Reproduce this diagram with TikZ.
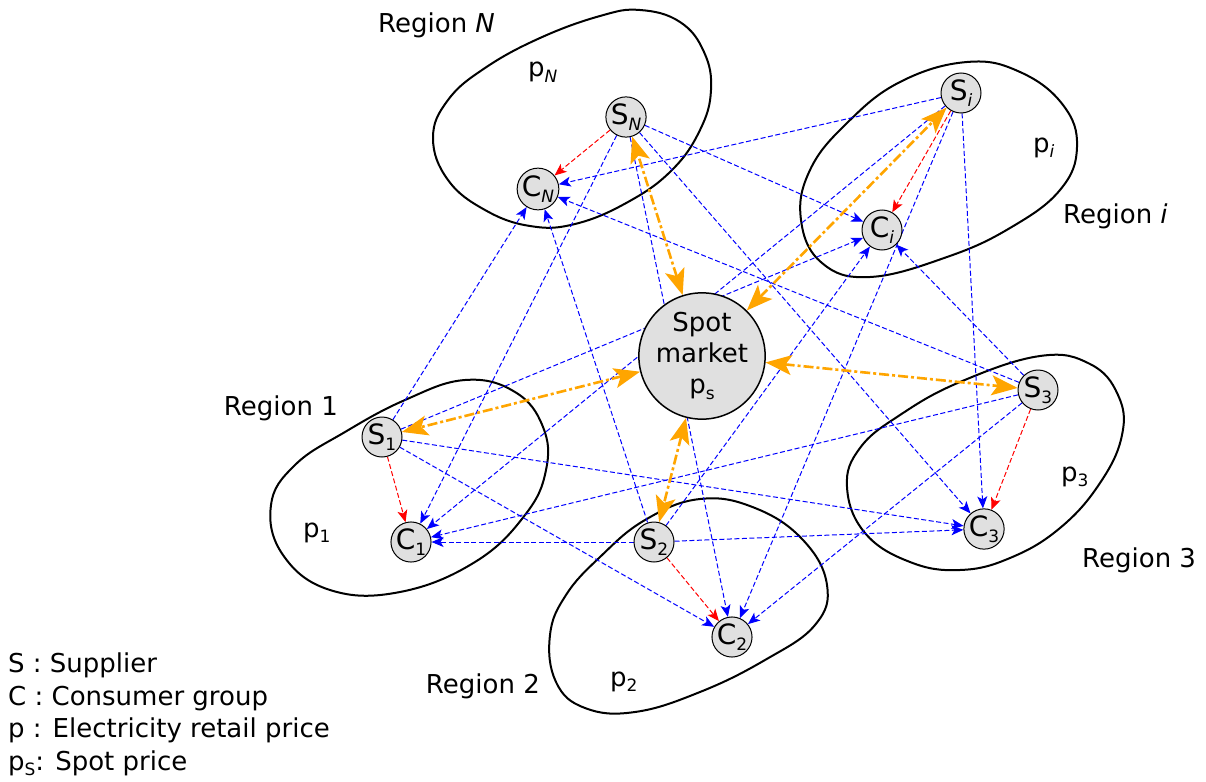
\documentclass[tikz,border=0pt]{standalone}
\usepackage{fontspec}
\setmainfont{DejaVu Sans}
\usetikzlibrary{arrows.meta,backgrounds}
\definecolor{myorange}{RGB}{255,165,0}
\definecolor{myblue}{RGB}{0,0,255}
\definecolor{myred}{RGB}{255,0,0}
\definecolor{nodegray}{RGB}{224,224,224}
\newcommand\sbs[1]{\raisebox{-0.2em}{\fontsize{17}{17}\selectfont #1}}
\begin{document}
\begin{tikzpicture}[x=1pt,y=-1pt,
  agent/.style={circle,draw=black,line width=1pt,fill=nodegray,minimum size=40pt,inner sep=0pt,font=\fontsize{28}{28}\selectfont},
  market/.style={circle,draw=black,line width=1.5pt,fill=nodegray,minimum size=108pt,inner sep=0pt,align=center,font=\fontsize{26}{31}\selectfont},
  blob/.style={draw=black,line width=2pt},
  lbl/.style={font=\fontsize{26}{30}\selectfont,inner sep=0pt},
  trade/.style={draw=myblue,line width=1pt,dash pattern=on 5pt off 2.5pt,-{Stealth[length=12pt,width=10pt,inset=3pt]}},
  local/.style={draw=myred,line width=1pt,dash pattern=on 5pt off 2.5pt,-{Stealth[length=12pt,width=10pt,inset=3pt]}},
  spotlink/.style={draw=myorange,line width=2.6pt,dash pattern=on 10pt off 3pt on 3pt off 3pt,{Stealth[length=26pt,width=20pt,inset=6pt]}-{Stealth[length=26pt,width=20pt,inset=6pt]}},
]
\useasboundingbox (0,0) rectangle (1206,781);

% nodes
\node[agent] (SN) at (626,117) {S\sbs{\itshape N}};
\node[agent] (CN) at (538,189) {C\sbs{\itshape N}};
\node[agent] (Si) at (961,93) {S\sbs{\itshape i}};
\node[agent] (Ci) at (882,230) {C\sbs{\itshape i}};
\node[agent] (S1) at (382,437) {S\sbs{1}};
\node[agent] (C1) at (411,542) {C\sbs{1}};
\node[agent] (S2) at (654,542) {S\sbs{2}};
\node[agent] (C2) at (732,637) {C\sbs{2}};
\node[agent] (S3) at (1038,390) {S\sbs{3}};
\node[agent] (C3) at (984,529) {C\sbs{3}};
\node[market] (spot) at (702,356) {Spot\\market\\p\sbs{s}};

% labels
\node[lbl,anchor=base west] (lN) at (378,33) {Region \textit{N}};
\node[lbl,anchor=base west] (li) at (1063,223) {Region \textit{i}};
\node[lbl,anchor=base east] (l1) at (338,415) {Region 1};
\node[lbl,anchor=base east] (l2) at (540,693) {Region 2};
\node[lbl,anchor=base west] (l3) at (1082,567) {Region 3};

\node[lbl,anchor=base west] (pN) at (528,77) {p\sbs{\itshape N}};
\node[lbl,anchor=base west] (pi) at (1033,152) {p\sbs{\itshape i}};
\node[lbl,anchor=base west] (p1) at (303,537) {p\sbs{1}};
\node[lbl,anchor=base west] (p2) at (610,686) {p\sbs{2}};
\node[lbl,anchor=base west] (p3) at (1061,481) {p\sbs{3}};

% legend
\node[lbl,anchor=base west] (leg1) at (8,672) {S : Supplier};
\node[lbl,anchor=base west] (leg2) at (8,705) {C : Consumer group};
\node[lbl,anchor=base west] (leg3) at (8,737) {p : Electricity retail price};
\node[lbl,anchor=base west] (leg4) at (8,770) {p\sbs{S}: Spot price};

\begin{scope}[on background layer]
% regions
\draw[blob] plot[smooth cycle,tension=0.7] coordinates {(433,138) (448,100) (485,68) (540,38) (600,16) (640,10) (680,22) (704,52) (711,90) (700,130) (672,170) (628,202) (575,224) (530,226) (485,210) (448,180)};
\draw[blob] plot[smooth cycle,tension=0.7] coordinates {(967,62) (1020,72) (1063,105) (1077,147) (1060,190) (1010,228) (947,257) (870,277) (822,263) (801,220) (810,170) (847,123) (900,82)};
\draw[blob] plot[smooth cycle,tension=0.7] coordinates {(465,380) (515,392) (543,427) (546,470) (525,515) (475,562) (400,592) (330,590) (283,555) (271,505) (295,465) (345,432) (405,400)};
\draw[blob] plot[smooth cycle,tension=0.7] coordinates {(700,499) (755,508) (803,540) (827,585) (815,625) (765,660) (700,692) (635,712) (585,708) (556,682) (550,635) (566,595) (600,557) (645,520)};
\draw[blob] plot[smooth cycle,tension=0.7] coordinates {(1040,356) (1090,364) (1118,395) (1122,435) (1100,483) (1060,528) (1010,558) (960,570) (910,562) (865,533) (847,487) (860,448) (900,415) (960,382)};

% trade between regions
\foreach \a/\b in {N/i,N/1,N/2,N/3,i/N,i/1,i/2,i/3,1/N,1/i,1/2,1/3,2/N,2/i,2/1,2/3,3/N,3/i,3/1,3/2}
  \draw[trade] (S\a) -- (C\b);
% local supply
\foreach \a in {N,i,1,2,3}
  \draw[local] (S\a) -- (C\a);
% spot market
\foreach \a in {N,i,1,2,3}
  \draw[spotlink] (spot) -- (S\a);
\end{scope}
\end{tikzpicture}
\end{document}
